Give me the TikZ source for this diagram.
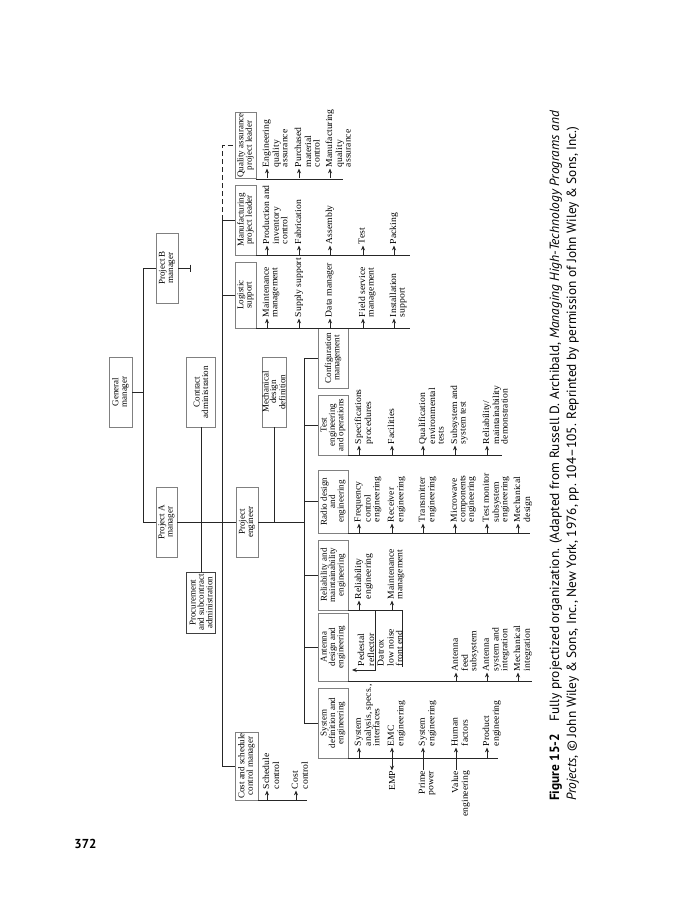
\documentclass[tikz,border=0pt]{standalone}
\usepackage{graphicx}
\usepackage{fontspec}
\setmainfont{Liberation Serif}
\newfontfamily\wideserif{Liberation Serif}[FakeStretch=1.05]
\newfontfamily\capfont{PT Sans}
\usetikzlibrary{arrows.meta}
\newcommand\fs{\fontsize{9}{8.4}\selectfont}
\newcommand\fsi{\wideserif\fontsize{9.2}{8.6}\selectfont}
\tikzset{
  ln/.style={line width=0.9pt, draw=black!85},
  arr/.style={ln, -{Stealth[length=4.8pt,width=4pt]}, shorten >=1.5pt},
  itm/.style={rotate=90, anchor=north west, align=left, inner sep=0pt, outer sep=0pt, font=\fsi},
  bx/.style={draw=black!50, line width=0.7pt, rotate=90, align=center, inner sep=1pt, font=\fs},
  fbox/.style={bx, minimum height=30pt},
}
% name, arrow x, line y, text start y, text
\newcommand\itm[5]{%
  \coordinate (#1s) at (#2,#3);
  \node[itm] (#1) at (#2-4.3,#4) {\strut #5};
  \draw[arr] (#1s) -- (#1s |- #1.west);
}
\newcommand\itmn[4]{%
  \node[itm] (#1) at (#2-4.3,#3) {\strut #4};
}
\begin{document}
\begin{tikzpicture}[x=1pt,y=-1pt]
\useasboundingbox (0,0) rectangle (680,900);
\fill[white] (0,0) rectangle (680,900);

% ---- management boxes
\node[bx, minimum width=70pt, minimum height=23pt] (GM) at (120.5,392) {General\\manager};
\node[bx, minimum width=70pt, minimum height=22pt] (PB) at (167,268) {Project B\\manager};
\node[bx, minimum width=70pt, minimum height=29pt] (CA) at (201,392) {Contract\\administration};
\node[bx, minimum width=70pt, minimum height=21pt] (PA) at (166.5,522) {Project A\\manager};
\node[bx, draw=black!75, line width=0.5pt, inner sep=0.5pt, minimum width=61pt, minimum height=29pt] (PR) at (201,602.5) {Procurement\\and subcontract\\administration};
\node[bx, minimum width=70pt, minimum height=22pt] (PE) at (247,522) {Project\\engineer};
\node[bx, font=\fontsize{9}{7.4}\selectfont, inner sep=0.5pt, minimum width=70pt, minimum height=22pt] (MD) at (274,392) {Mechanical\\design\\definition};

\node[bx, minimum width=65pt, minimum height=21pt] (QA) at (245.5,145.5) {Quality assurance\\project leader};
\node[bx, minimum width=70pt, minimum height=21pt] (MF) at (245.5,220) {Manufacturing\\project leader};
\node[bx, minimum width=66pt, minimum height=21pt] (LS) at (245.5,295) {Logistic\\support};
\node[bx, minimum width=68pt, minimum height=23pt] (CS) at (246.5,766) {Cost and schedule\\control manager};

% ---- functional boxes
\node[fbox, minimum width=60pt] (CM) at (333,358) {Configuration\\management};
\node[fbox, minimum width=60pt] (TE) at (333,425) {Test\\engineering\\and operations};
\node[fbox, minimum width=63pt] (RD) at (333,501.5) {Radio design\\and\\engineering};
\node[fbox, minimum width=70pt] (RM) at (333,575) {Reliability and\\maintainability\\engineering};
\node[fbox, minimum width=68pt] (AD) at (333,647) {Antenna\\design and\\engineering};
\node[fbox, minimum width=70pt] (SD) at (333,723) {System\\definition and\\engineering};

% ---- connectors
\draw[ln] (GM.south) -- (143,392);
\draw[ln] (PB.north) -- (143,268) -- (143,522) -- (PA.north);
\draw[ln, -{Bar[width=7pt]}] (PB.south) -- ++(13,0);
\draw[ln] (PA.south) -- (PE.north);
\draw[ln] (PE.south) -- (304,522);
\draw[ln] (CA.west) -- (PR.east);
\draw[ln] (MD.west) -- (274,522);
\draw[ln] (MF.north) -- (222,220) -- (222,766) -- (CS.north);
\draw[ln] (LS.north) -- (222,295);
\draw[ln, dash pattern=on 5pt off 3pt] (222,220) -- (222,145.5) -- (QA.north);
\draw[ln] (CM.north) -- (304,358) -- (304,723) -- (SD.north);
\foreach \b in {TE,RD,RM,AD} {\draw[ln] (\b.north) -- ++(-14,0);}

% ---- list lines
\draw[ln] (QA.south west) -- ++(87,0);
\draw[ln] (MF.south west) -- ++(154,0);
\draw[ln] (LS.south west) -- ++(154,0);
\draw[ln] (CS.south west) -- ++(49,0);
\draw[ln] (TE.south west) -- ++(154,0);
\draw[ln] (RD.south west) -- ++(182,0);
\draw[ln] (RM.south west) -- ++(54,0) -- ++(0,57);
\draw[ln] (AD.south west) -- ++(184,0);
\draw[ln] (SD.south west) -- ++(150,0);

% ---- quality assurance
\itm{qaa}{267}{178}{167}{Engineering\\quality\\assurance}
\itm{qab}{299}{178}{167}{Purchased\\material\\control}
\itm{qac}{330}{178}{167}{Manufacturing\\quality\\assurance}
% ---- manufacturing
\itm{mfa}{267}{255}{244}{Production and\\inventory\\control}
\itm{mfb}{299}{255}{244}{Fabrication}
\itm{mfc}{330}{255}{244}{Assembly}
\itm{mfd}{363}{255}{244}{Test}
\itm{mfe}{394}{255}{244}{Packing}
% ---- logistic support
\itm{lsa}{267}{328}{317}{Maintenance\\management}
\itm{lsb}{299}{328}{317}{Supply support}
\itm{lsc}{330}{328}{317}{Data manager}
\itm{lsd}{363}{328}{317}{Field service\\management}
\itm{lse}{394}{328}{317}{Installation\\support}
% ---- cost and schedule
\itm{csa}{267}{800}{789}{Schedule\\control}
\itm{csb}{296}{800}{789}{Cost\\control}
% ---- test engineering
\itm{tea}{359}{455}{444}{Specifications\\procedures}
\itm{teb}{392}{455}{444}{Facilities}
\itm{tec}{423}{455}{444}{Qualification\\environmental\\tests}
\itm{ted}{455}{455}{444}{Subsystem and\\system test}
\itm{tee}{487}{455}{444}{Reliability/\\maintainability\\demonstration}
% ---- radio design
\itm{rda}{359}{533}{522}{Frequency\\control\\engineering}
\itm{rdb}{392}{533}{522}{Receiver\\engineering}
\itm{rdc}{423}{533}{522}{Transmitter\\engineering}
\itm{rdd}{455}{533}{522}{Microwave\\components\\engineering}
\itm{rde}{487}{533}{522}{Test monitor\\subsystem\\engineering}
\itm{rdf}{518}{533}{522}{Mechanical\\design}
% ---- reliability
\itm{rma}{359}{610}{599}{Reliability\\engineering}
\itm{rmb}{392}{610}{599}{Maintenance\\management}
% ---- antenna
\coordinate (brk) at (375,610);
\draw[arr, shorten >=0pt] (brk) -- (375,670) -- (352,670);
\itmn{ped}{362}{666}{Pedestal\\reflector}
\itmn{dat}{382}{666}{Datrox\\low noise\\front end}
\itm{ada}{456}{681}{671}{Antenna\\feed\\subsystem}
\itm{adb}{487}{681}{671}{Antenna\\system and\\integration}
\itm{adc}{518}{681}{671}{Mechanical\\integration}
% ---- system definition
\itm{sda}{359}{758}{746}{System\\analysis, specs.,\\interfaces}
\itmn{sdb}{392}{746}{EMC\\engineering}
\itmn{sdc}{423}{746}{System\\engineering}
\itmn{sdd}{456}{746}{Human\\factors}
\itm{sde}{487}{758}{746}{Product\\engineering}
\node[itm, anchor=east] (emp) at (392,771) {EMP};
\draw[ln, {Stealth[length=4.8pt,width=4pt]}-{Stealth[length=4.8pt,width=4pt]}, shorten >=1.5pt, shorten <=0.5pt] (emp.east) -- (emp.east |- sdb.west);
\node[itm, anchor=north east, align=right] (prime) at (423-4.3,771) {\strut Prime\\power};
\coordinate (primes) at (423,770);
\draw[arr] (primes) -- (primes |- sdc.west);
\node[itm, anchor=north east, align=right] (value) at (456-4.3,771) {\strut Value\\engineering};
\coordinate (values) at (456,770);
\draw[arr] (values) -- (values |- sdd.west);

% ---- caption and page number
\node[rotate=90, anchor=north west, inner sep=0pt] (cap) at (547,801)
  {\resizebox{690pt}{!}{\capfont\fontsize{11}{14}\selectfont
   \begin{tabular}{@{}l@{}}
   \textbf{Figure 15-2}\hspace{0.9em}Fully projectized organization. (Adapted from Russell D. Archibald, \textit{Managing High-Technology Programs and}\\
   \textit{Projects}, © John Wiley \& Sons, Inc., New York, 1976, pp. 104–105. Reprinted by permission of John Wiley \& Sons, Inc.)
   \end{tabular}}};
\node[font=\capfont\bfseries\fontsize{13}{13}\selectfont, inner sep=0pt] (pg) at (85.5,844) {372};
\end{tikzpicture}
\end{document}
